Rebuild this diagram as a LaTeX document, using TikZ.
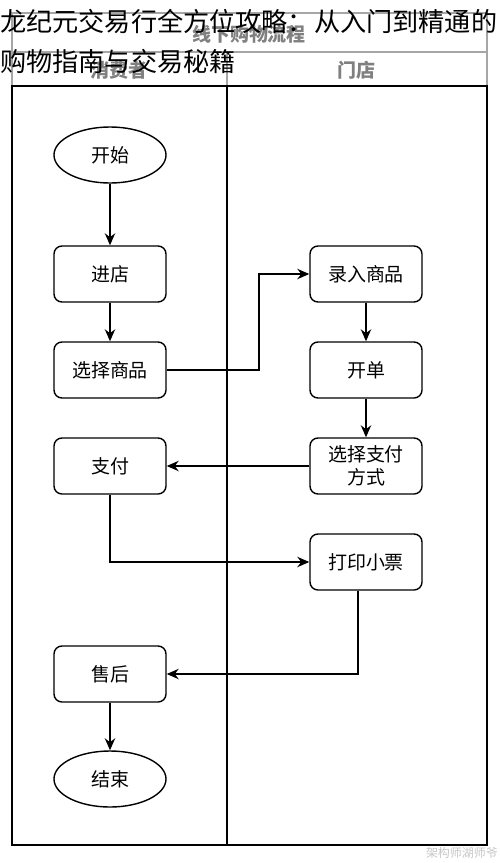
\documentclass[tikz,border=0pt]{standalone}
\usepackage{fontspec}
\setmainfont{Noto Sans CJK SC}
\usetikzlibrary{arrows.meta,shapes.geometric}

\tikzset{
  stepbox/.style={draw, line width=1pt, rounded corners=0.2cm, fill=white,
    minimum width=2.8cm, minimum height=1.4cm, align=center, font=\fontsize{13.5}{16}\selectfont},
  termbox/.style={draw, line width=1pt, ellipse, fill=white, inner sep=0pt,
    minimum width=2.8cm, minimum height=1.4cm, font=\fontsize{13.5}{16}\selectfont},
  flow/.style={line width=1pt, -{Stealth[length=0.3cm, width=0.26cm]}},
  lanehead/.style={text=gray, font=\bfseries\fontsize{13.5}{16}\selectfont}
}

\begin{document}
\begin{tikzpicture}[x=0.025cm, y=-0.025cm]
        \useasboundingbox (0,0) rectangle (500,863);

        % Draw pool header
        \draw[gray!70, line width=1pt] (12,13) rectangle (487,86);
        \draw[gray!70, line width=1pt] (12,52) -- (487,52);
        \draw[gray!70, line width=1pt] (227,52) -- (227,86);
        \node[lanehead] (pool) at (249,34) {线下购物流程};
        \node[lanehead] (buyer) at (119,70) {消费者};
        \node[lanehead] (store) at (356,70) {门店};

        % Draw lanes
        \draw[line width=1.3pt] (12,86) rectangle (227,845);
        \draw[line width=1.3pt] (227,86) rectangle (487,845);

        % Consumer lane
        \node[termbox] (start) at (110,155) {开始};
        \node[stepbox] (enter) at (110,274) {进店};
        \node[stepbox] (pick) at (110,370) {选择商品};
        \node[stepbox] (pay) at (110,466) {支付};
        \node[stepbox] (after) at (110,674) {售后};
        \node[termbox] (finish) at (110,779) {结束};

        % Store lane
        \node[stepbox] (scan) at (366,274) {录入商品};
        \node[stepbox] (bill) at (366,370) {开单};
        \node[stepbox] (paymode) at (366,466) {选择支付\\方式};
        \node[stepbox] (receipt) at (366,562) {打印小票};

        % Draw connectors
        \coordinate (bend) at (259,370);
        \draw[flow] (start) -- (enter);
        \draw[flow] (enter) -- (pick);
        \draw[flow] (pick) -- (bend) |- (scan);
        \draw[flow] (scan) -- (bill);
        \draw[flow] (bill) -- (paymode);
        \draw[flow] (paymode) -- (pay);
        \draw[flow] (pay) |- (receipt);
        \draw[flow] ([xshift=-0.2cm]receipt.south) |- (after);
        \draw[flow] (after) -- (finish);

        % Title over the picture
        \node[anchor=west, inner sep=0pt, font=\fontsize{18.6}{22}\selectfont] (title1) at (0,21) {龙纪元交易行全方位攻略：从入门到精通的};
        \node[anchor=west, inner sep=0pt, font=\fontsize{18.6}{22}\selectfont] (title2) at (0,62) {购物指南与交易秘籍};

        % Watermark
        \node[anchor=east, inner sep=0pt, text=gray!45, font=\fontsize{8.5}{10}\selectfont] (mark) at (498,853) {架构师湖师爷};

    \end{tikzpicture}
\end{document}
